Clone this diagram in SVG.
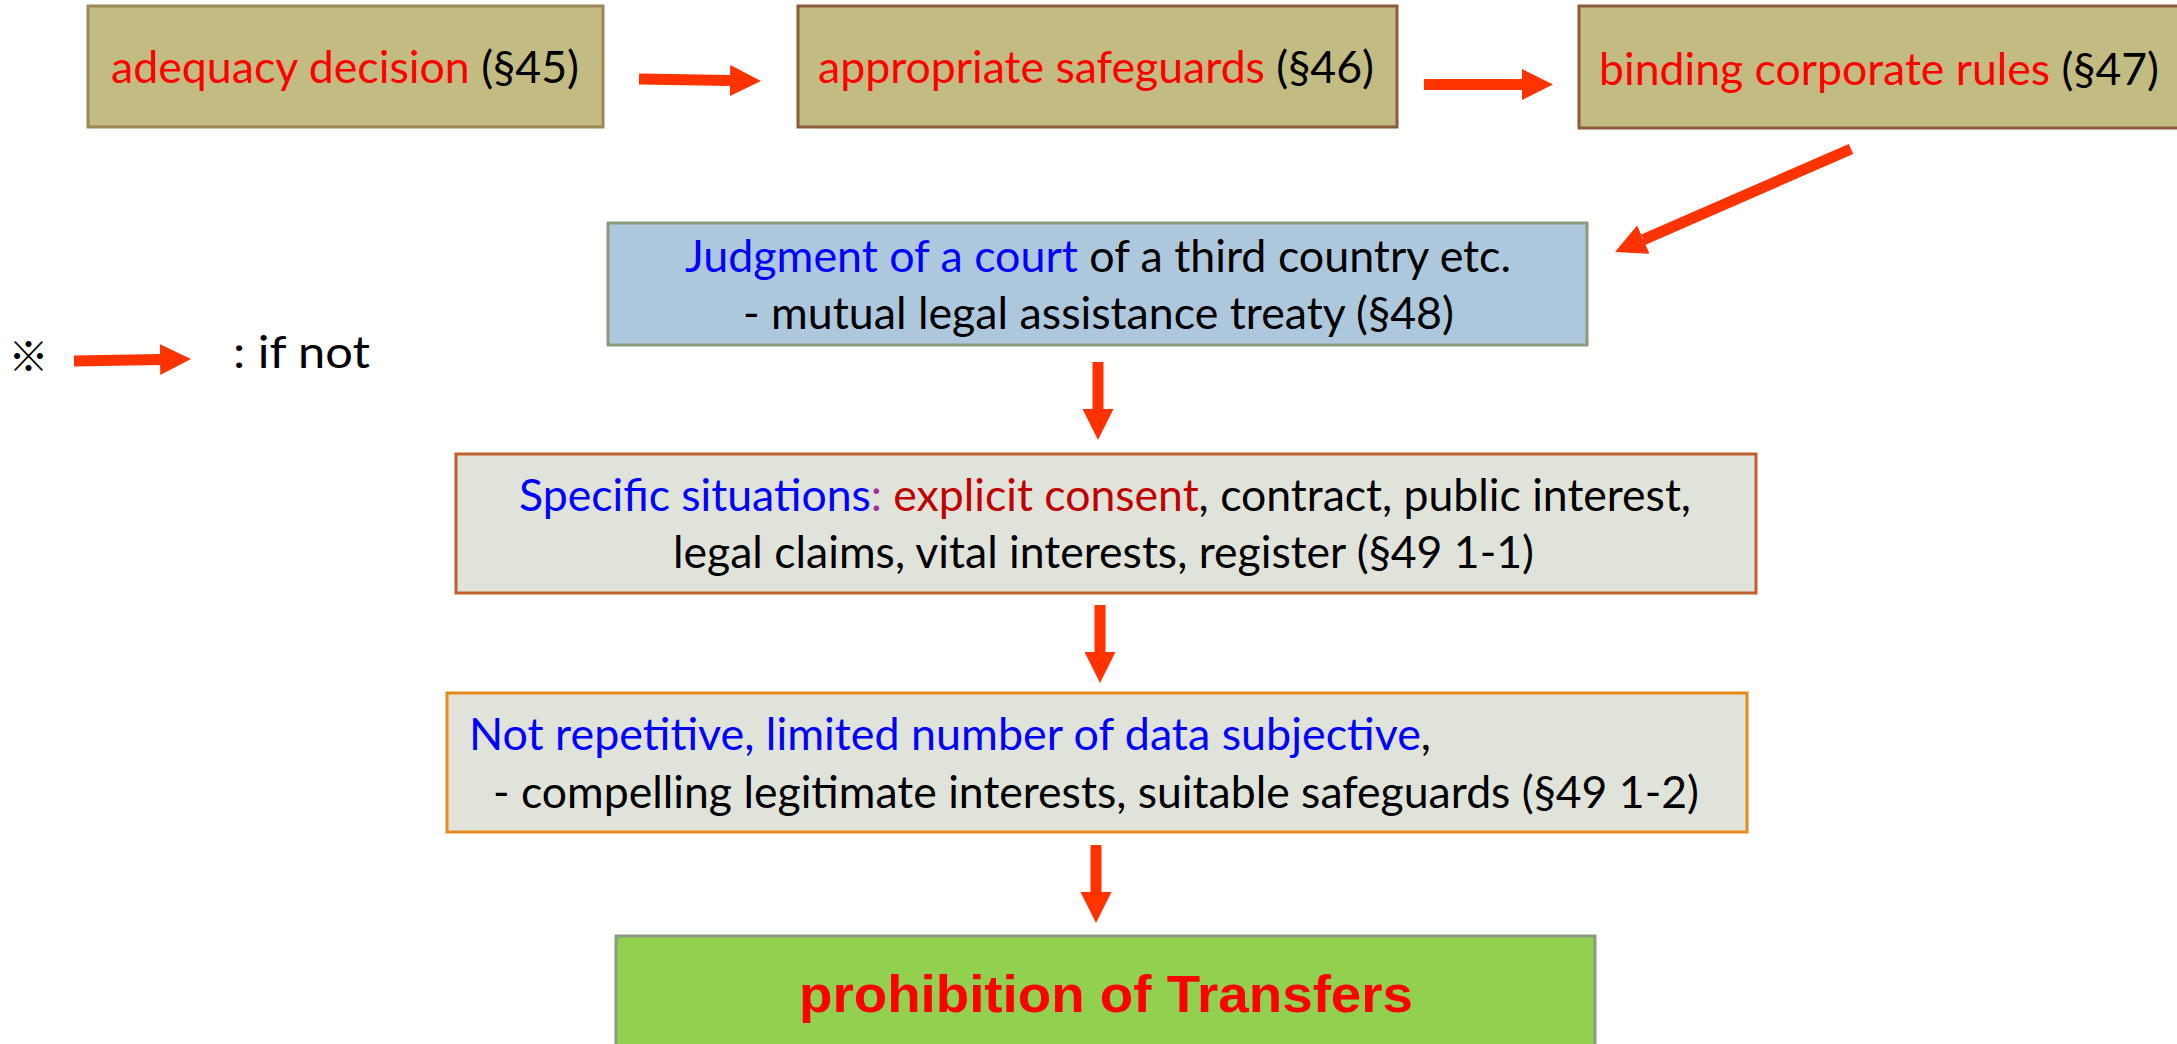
<svg xmlns="http://www.w3.org/2000/svg" width="2177" height="1044" viewBox="0 0 2177 1044">
  <style>
    .t { font-family: Lato, "Open Sans", "Liberation Sans", sans-serif; font-size: 45px; fill: #000000; }
    .red { fill: #ff0000; }
    .blue { fill: #0000ff; }
    .dred { fill: #c00000; }
    .purple { fill: #a0309a; }
    .olive { fill: #c3bc82; stroke-width: 3; }
    .pale { fill: #e0e3da; stroke-width: 3; }
    .conn { stroke: #ff3300; stroke-width: 11; fill: none; marker-end: url(#head); }
    .big { font-family: "Liberation Sans", Arial, sans-serif; font-weight: bold; font-size: 52px; fill: #ff0000; }
  </style>
  <defs>
    <marker id="head" viewBox="0 0 31 31" markerWidth="31" markerHeight="31" markerUnits="userSpaceOnUse" refX="0" refY="15.5" orient="auto">
      <path d="M0,0 L31,15.5 L0,31 Z" fill="#ff3300"/>
    </marker>
  </defs>

  <rect width="2177" height="1044" fill="#ffffff"/>

  <!-- top row: the three transfer grounds -->
  <g id="adequacy">
    <rect class="olive" x="88" y="6" width="515" height="121" stroke="#9c8759"/>
    <text class="t" x="111" y="83" textLength="468" lengthAdjust="spacingAndGlyphs"><tspan class="red">adequacy decision</tspan> (§45)</text>
  </g>
  <g id="safeguards">
    <rect class="olive" x="798" y="6" width="599" height="121" stroke="#8b5a3c"/>
    <text class="t" x="818" y="83" textLength="556" lengthAdjust="spacingAndGlyphs"><tspan class="red">appropriate safeguards</tspan> (§46)</text>
  </g>
  <g id="bcr">
    <rect class="olive" x="1579" y="6" width="620" height="122" stroke="#8b5a3c"/>
    <text class="t" x="1599" y="85" textLength="560" lengthAdjust="spacingAndGlyphs"><tspan class="red">binding corporate rules</tspan> (§47)</text>
  </g>

  <!-- court judgment -->
  <g id="judgment">
    <rect x="608" y="223" width="979" height="122" fill="#adc8dc" stroke="#8c9a80" stroke-width="3"/>
    <text class="t" x="685" y="272" textLength="826" lengthAdjust="spacingAndGlyphs"><tspan class="blue">Judgment of a court</tspan> of a third country etc.</text>
    <text class="t" x="743" y="329" textLength="711" lengthAdjust="spacingAndGlyphs">- mutual legal assistance treaty (§48)</text>
  </g>

  <!-- specific situations -->
  <g id="situations">
    <rect class="pale" x="456" y="454" width="1300" height="139" stroke="#c0602f"/>
    <text class="t" x="519" y="511" textLength="1172" lengthAdjust="spacingAndGlyphs"><tspan class="blue">Specific situations</tspan><tspan class="purple">:</tspan> <tspan class="dred">explicit consent</tspan>, contract, public interest,</text>
    <text class="t" x="673" y="568" textLength="861" lengthAdjust="spacingAndGlyphs">legal claims, vital interests, register (§49 1-1)</text>
  </g>

  <!-- limited, non-repetitive transfers -->
  <g id="limited">
    <rect class="pale" x="447" y="693" width="1300" height="139" stroke="#e8891c"/>
    <text class="t" x="469" y="750" textLength="962" lengthAdjust="spacingAndGlyphs"><tspan class="blue">Not repetitive, limited number of data subjective</tspan>,</text>
    <text class="t" x="493" y="808" textLength="1206" lengthAdjust="spacingAndGlyphs">- compelling legitimate interests, suitable safeguards (§49 1-2)</text>
  </g>

  <!-- final outcome -->
  <g id="prohibition">
    <rect x="616" y="936" width="979" height="120" fill="#92d050" stroke="#8c9a80" stroke-width="3"/>
    <text class="big" x="799" y="1012" textLength="614" lengthAdjust="spacingAndGlyphs">prohibition of Transfers</text>
  </g>

  <!-- legend -->
  <g id="legend">
    <text x="28.5" y="354" font-family="'Noto Sans CJK JP', sans-serif" font-size="40" text-anchor="middle" dominant-baseline="central">※</text>
    <line class="conn" x1="74" y1="361" x2="160" y2="359.5"/>
    <text class="t" x="233" y="368" font-size="50" textLength="137" lengthAdjust="spacingAndGlyphs">: if not</text>
  </g>

  <!-- "if not" connectors -->
  <g id="connectors">
    <line class="conn" x1="639" y1="79" x2="730" y2="80.5"/>
    <line class="conn" x1="1424" y1="84.5" x2="1522" y2="84.5"/>
    <line class="conn" x1="1851" y1="149" x2="1643.4" y2="239.6"/>
    <line class="conn" x1="1098" y1="362" x2="1098" y2="409"/>
    <line class="conn" x1="1100" y1="605" x2="1100" y2="652"/>
    <line class="conn" x1="1096" y1="845" x2="1096" y2="892"/>
  </g>
</svg>
